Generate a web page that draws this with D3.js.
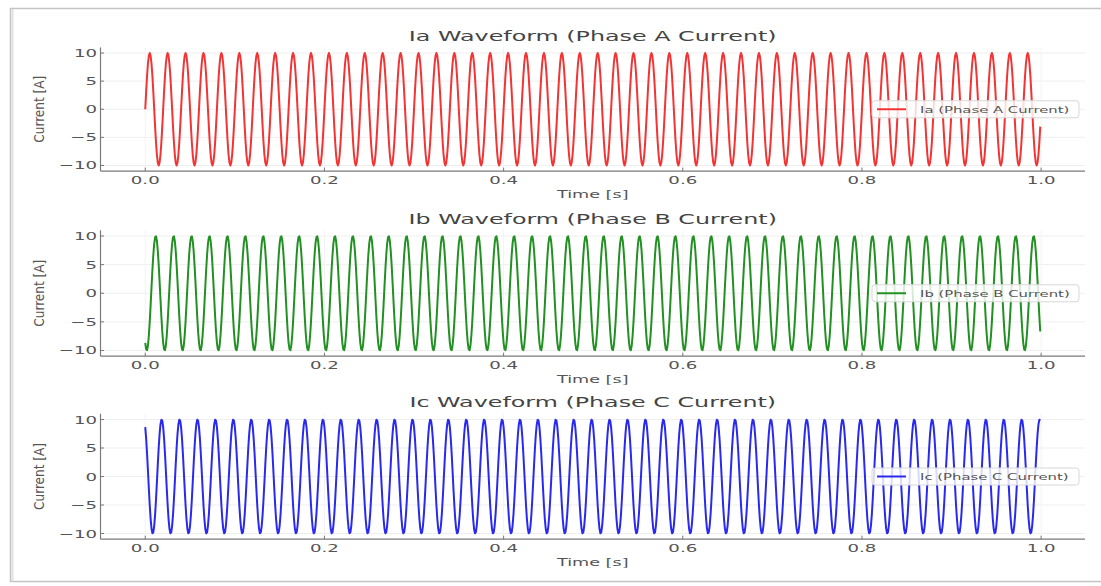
<!DOCTYPE html>
<html>
<head>
<meta charset="utf-8">
<script src="https://cdn.jsdelivr.net/npm/d3@7"></script>
<style>
  html, body { margin: 0; padding: 0; background: #fff; }
  svg { display: block; font-family: "DejaVu Sans", sans-serif; }
</style>
</head>
<body>
<svg id="chart" width="1101" height="586"></svg>
<script>
// Three-phase current waveforms, sampled every 1 ms over one second (50 Hz).
const panelTitles = [
  "Ia Waveform (Phase A Current)",
  "Ib Waveform (Phase B Current)",
  "Ic Waveform (Phase C Current)"
];
const legendLabels = [
  "Ia (Phase A Current)",
  "Ib (Phase B Current)",
  "Ic (Phase C Current)"
];
const lineColors = ["#f23434", "#229022", "#2a2aee"];

const sampleStep = 0.001;   // seconds between samples
const cyclesShown = 50;     // number of 20-sample cycles recorded

// One recorded cycle (20 samples, amperes) of each phase current
const iaCycle = [0, 3.09, 5.88, 8.09, 9.51, 10, 9.51, 8.09, 5.88, 3.09,
                 0, -3.09, -5.88, -8.09, -9.51, -10, -9.51, -8.09, -5.88, -3.09];
const ibCycle = [-8.66, -9.78, -9.95, -9.14, -7.43, -5, -2.08, 1.05, 4.07, 6.69,
                 8.66, 9.78, 9.95, 9.14, 7.43, 5, 2.08, -1.05, -4.07, -6.69];
const icCycle = [8.66, 6.69, 4.07, 1.05, -2.08, -5, -7.43, -9.14, -9.95, -9.78,
                 -8.66, -6.69, -4.07, -1.05, 2.08, 5, 7.43, 9.14, 9.95, 9.78];

const yTicks = [-10, -5, 0, 5, 10];
const xTicks = [0, 0.2, 0.4, 0.6, 0.8, 1.0];
const xLabel = "Time [s]";
const yLabel = "Current [A]";

const cycles = [iaCycle, ibCycle, icCycle];
const series = cycles.map(cycle =>
  d3.range(cyclesShown * cycle.length).map(i => ({ t: i * sampleStep, v: cycle[i % cycle.length] }))
);

// ---- layout ----
const svg = d3.select("#chart");
const plotLeft = 100.5, plotRight = 1085;
const panelTops = [47.4, 230.3, 413.8];
const panelBottoms = [171.1, 356.2, 539.2];
const textStretch = 1.65;

// outer frame
svg.append("rect")
  .attr("x", 10.5).attr("y", 8.5).attr("width", 1100).attr("height", 573)
  .attr("fill", "none").attr("stroke", "#c4c4c4").attr("stroke-width", 1.5);
svg.append("line")
  .attr("x1", 12.5).attr("x2", 12.5).attr("y1", 9).attr("y2", 581)
  .attr("stroke", "#e2e2e2").attr("stroke-width", 2);

function stretchedText(parent, x, y, str, size, anchor, fill, sx) {
  return parent.append("text")
    .attr("transform", `translate(${x},${y}) scale(${sx || textStretch},1)`)
    .attr("text-anchor", anchor)
    .attr("font-size", size)
    .attr("fill", fill)
    .text(str);
}

const fmtY = d3.format("d");
const fmtX = d3.format(".1f");

series.forEach((data, p) => {
  const g = svg.append("g");
  const tMin = d3.min(data, d => d.t), tMax = d3.max(data, d => d.t);
  const padT = (tMax - tMin) * 0.05;
  const x = d3.scaleLinear().domain([tMin - padT, tMax + padT]).range([plotLeft, plotRight]);
  const y = d3.scaleLinear().domain([-11, 11]).range([panelBottoms[p], panelTops[p]]);

  // faint grid
  g.append("g").selectAll("line").data(yTicks).join("line")
    .attr("x1", plotLeft).attr("x2", plotRight)
    .attr("y1", d => y(d)).attr("y2", d => y(d))
    .attr("stroke", "#efefef").attr("stroke-width", 1);
  g.append("g").selectAll("line").data(xTicks).join("line")
    .attr("x1", d => x(d)).attr("x2", d => x(d))
    .attr("y1", panelTops[p]).attr("y2", panelBottoms[p])
    .attr("stroke", "#f3f3f3").attr("stroke-width", 1);

  // waveform
  const line = d3.line().x(d => x(d.t)).y(d => y(d.v));
  g.append("path").datum(data)
    .attr("d", line)
    .attr("fill", "none")
    .attr("stroke", lineColors[p])
    .attr("stroke-width", 2)
    .attr("stroke-linejoin", "round");

  // spines (left and bottom)
  g.append("line")
    .attr("x1", plotLeft).attr("x2", plotLeft)
    .attr("y1", panelTops[p]).attr("y2", panelBottoms[p])
    .attr("stroke", "#7a7a7a").attr("stroke-width", 1.2);
  g.append("line")
    .attr("x1", plotLeft).attr("x2", plotRight)
    .attr("y1", panelBottoms[p]).attr("y2", panelBottoms[p])
    .attr("stroke", "#7a7a7a").attr("stroke-width", 1.2);

  // y ticks (inward) and labels
  yTicks.forEach(v => {
    g.append("line")
      .attr("x1", plotLeft).attr("x2", plotLeft + 3.5)
      .attr("y1", y(v)).attr("y2", y(v))
      .attr("stroke", "#7a7a7a").attr("stroke-width", 1);
    stretchedText(g, 97, y(v) + 4, fmtY(v), 11, "end", "#555");
  });

  // x ticks (inward) and labels
  xTicks.forEach(t => {
    g.append("line")
      .attr("x1", x(t)).attr("x2", x(t))
      .attr("y1", panelBottoms[p]).attr("y2", panelBottoms[p] - 3.5)
      .attr("stroke", "#7a7a7a").attr("stroke-width", 1);
    stretchedText(g, x(t), panelBottoms[p] + 12.5, fmtX(t), 11, "middle", "#555");
  });

  // axis labels
  stretchedText(g, (plotLeft + plotRight) / 2, panelBottoms[p] + 27, xLabel, 11, "middle", "#555", 1.6);
  g.append("text")
    .attr("transform", `translate(44,${y(0)}) scale(1.25,1.1) rotate(-90)`)
    .attr("text-anchor", "middle")
    .attr("font-size", 11)
    .attr("fill", "#555")
    .text(yLabel);

  // title
  stretchedText(g, (plotLeft + plotRight) / 2, panelTops[p] - 6.5, panelTitles[p], 14, "middle", "#444", 1.7);

  // legend (center right)
  const ly = y(0);
  const lg = g.append("g");
  lg.append("rect")
    .attr("x", 872).attr("y", ly - 8.5).attr("width", 207).attr("height", 17)
    .attr("rx", 3)
    .attr("fill", "#fff").attr("fill-opacity", 0.82)
    .attr("stroke", "#d8d8d8").attr("stroke-width", 1);
  lg.append("line")
    .attr("x1", 877).attr("x2", 906).attr("y1", ly).attr("y2", ly)
    .attr("stroke", lineColors[p]).attr("stroke-width", 2);
  stretchedText(lg, 920, ly + 3.3, legendLabels[p], 9, "start", "#555", 1.65);
});
</script>
</body>
</html>
